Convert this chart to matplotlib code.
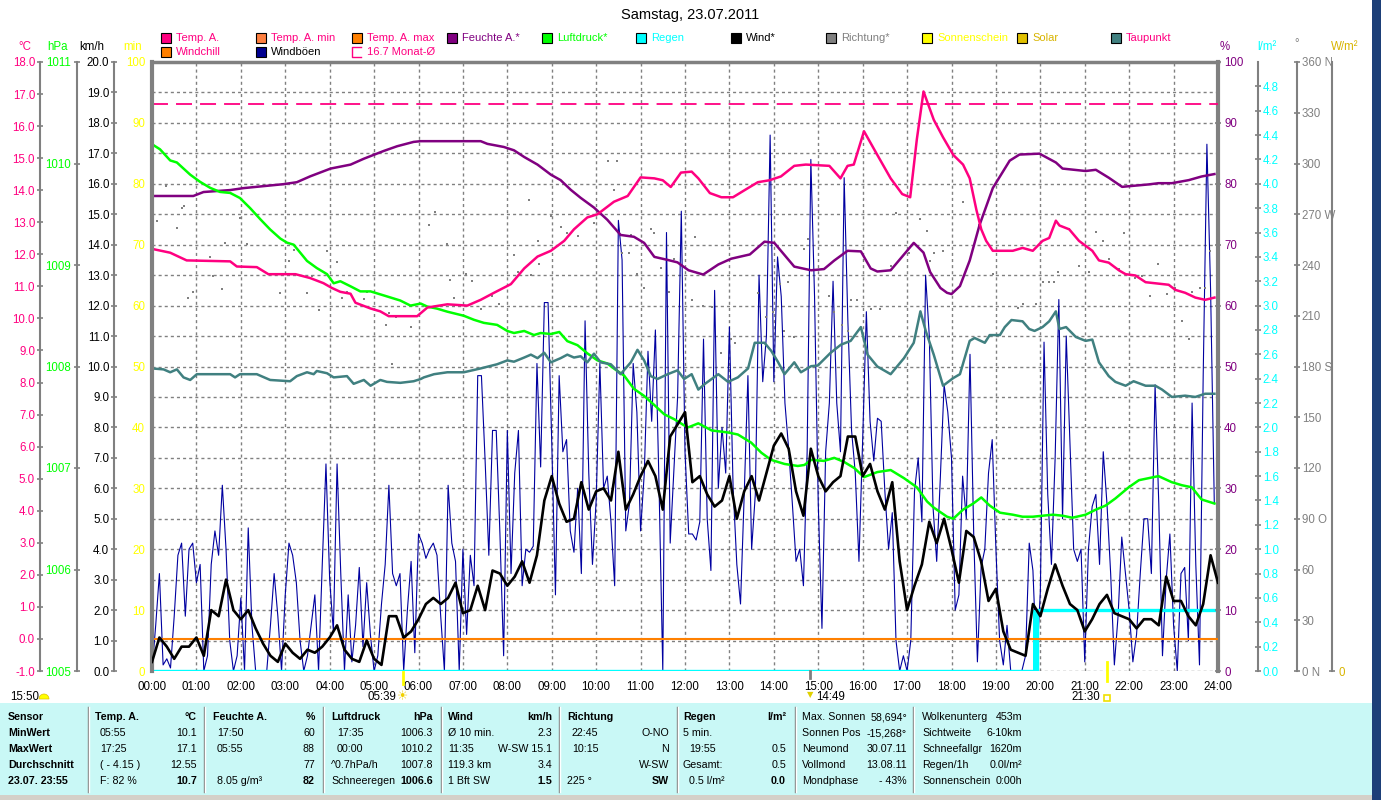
import matplotlib
matplotlib.use('Agg')
import matplotlib.pyplot as plt
import matplotlib.transforms as mtransforms
from matplotlib.patches import Rectangle, Wedge
from matplotlib.lines import Line2D
import numpy as np

plt.rcParams['font.family'] = ['Liberation Sans', 'DejaVu Sans']
plt.rcParams['lines.scale_dashes'] = False

# ---- data ----
temp_hours = [0, 0.41, 0.78, 1.76, 1.91, 2.36, 2.62, 3.23, 3.56, 3.86, 4.05, 4.24, 4.47, 4.58, 4.92, 5.14, 5.33, 5.97,
              6.2, 6.65, 7.1, 7.4, 7.7, 8.08, 8.38, 8.68, 8.98, 9.28, 9.5, 9.8, 10.03, 10.4, 10.71, 11.0, 11.31, 11.5, 11.68, 11.91,
              12.15, 12.3, 12.56, 12.82, 13.08, 13.34, 13.64, 13.9, 14.16, 14.46, 14.72, 15.25, 15.5, 15.66, 15.8, 16.03, 16.33,
              16.63, 16.89, 17.07, 17.22, 17.37, 17.6,
              17.81, 18.04, 18.26, 18.41, 18.56, 18.67, 18.78, 18.93, 19.38, 19.6, 19.83, 20.05, 20.2, 20.35, 20.43, 20.65, 20.87,
              21.17, 21.32, 21.54, 21.77, 21.92, 22.14, 22.37, 22.89, 23.04, 23.26, 23.49, 23.71, 23.92]
temp_vals = [12.17, 12.05, 11.81, 11.78, 11.62, 11.60, 11.38, 11.38, 11.26, 11.10, 10.95, 10.83, 10.77, 10.49, 10.31, 10.22, 10.07, 10.07,
             10.34, 10.44, 10.40, 10.58, 10.80, 11.07, 11.56, 11.93, 12.11, 12.42, 12.78, 13.15, 13.25, 13.64, 13.82, 14.40, 14.37, 14.31, 14.10, 14.55,
             14.58, 14.37, 13.91, 13.78, 13.78, 14.00, 14.25, 14.31, 14.43, 14.76, 14.80, 14.76, 14.37, 14.76, 14.80, 15.84, 15.10,
             14.37, 13.88, 13.78, 15.59, 17.08, 16.20,
             15.65, 15.10, 14.80, 14.37, 13.39, 12.78, 12.42, 12.11, 12.11, 12.20, 12.11, 12.42, 12.51, 13.05, 12.90, 12.78, 12.42,
             12.11, 11.81, 11.74, 11.50, 11.38, 11.34, 11.13, 11.05, 10.89, 10.80, 10.65, 10.58, 10.65]

hum_hours = [0, 0.93, 1.16, 1.76, 2.06, 2.96, 3.26, 3.56, 4.02, 4.47, 4.77, 5.22, 5.52, 5.89,
             6.05, 7.4, 7.55, 7.92, 8.15, 8.38, 8.68, 8.98, 9.2, 9.43, 9.65, 9.95, 10.25, 10.55, 10.85, 11.08, 11.31, 11.61, 11.83,
             12.08, 12.41, 12.75, 13.04, 13.46, 13.79, 14.01, 14.46, 14.84, 15.13, 15.36, 15.66, 15.96, 16.18, 16.33, 16.63, 16.85,
             17.15, 17.37, 17.52, 17.75, 17.9,
             18.0, 18.19, 18.41, 18.63, 18.93, 19.31, 19.53, 19.98, 20.35, 20.5, 21.02, 21.25, 21.54, 21.84, 22.14, 22.44, 22.66,
             22.96, 23.34, 23.63, 23.92]
hum_vals = [78.0, 78.0, 78.65, 78.97, 79.29, 79.94, 80.26, 81.22, 82.5, 83.15, 84.12, 85.4, 86.17, 86.88,
            87.0, 87.0, 86.56, 86.05, 85.5, 84.4, 83.15, 81.5, 80.6, 79.0, 77.7, 76.1, 74.1, 71.6, 71.3, 70.3, 68.0, 67.5, 67.1,
            65.8, 65.1, 66.75, 67.7, 68.4, 70.5, 70.3, 66.4, 65.8, 66.0, 67.4, 69.0, 68.9, 66.1, 65.6, 65.8, 67.7,
            70.3, 68.7, 65.5, 62.9, 62.1,
            61.9, 63.2, 67.4, 73.2, 79.3, 83.8, 84.8, 84.95, 83.5, 82.5, 82.1, 82.3, 81.0, 79.5, 79.7, 79.9, 80.1,
            80.1, 80.6, 81.2, 81.6]

press_hours = [0, 0.18, 0.41, 0.56, 0.71, 0.86, 1.08, 1.31, 1.53, 1.76, 1.98, 2.21, 2.44, 2.66, 2.89, 3.04, 3.19, 3.34, 3.49, 3.71,
               3.94, 4.09, 4.24, 4.47, 4.69, 4.92, 5.22, 5.59, 5.82, 6.05,
               6.2, 6.42, 6.65, 7.02, 7.25, 7.47, 7.77, 8.0, 8.15, 8.38, 8.6, 8.75, 8.98, 9.17, 9.35, 9.58, 9.8, 10.03, 10.25,
               10.4, 10.63, 10.85, 11.08, 11.31, 11.53, 11.76, 11.98,
               12.07, 12.3, 12.6, 12.97, 13.19, 13.49, 13.72, 13.94, 14.24, 14.54, 14.69, 14.84, 15.13, 15.36, 15.58, 15.81,
               16.03, 16.33, 16.63, 16.93, 17.22, 17.45, 17.6, 17.9,
               18.04, 18.26, 18.49, 18.67, 18.86, 19.09, 19.38, 19.6, 19.83, 20.28, 20.5, 20.72, 21.02, 21.25, 21.47, 21.69,
               21.99, 22.22, 22.44, 22.66, 22.96, 23.19, 23.41, 23.63, 23.92]
press_vals = [1010.19, 1010.14, 1010.03, 1010.01, 1009.95, 1009.89, 1009.82, 1009.76, 1009.72, 1009.71, 1009.66, 1009.56, 1009.45,
              1009.35, 1009.26, 1009.22, 1009.20, 1009.12, 1009.04, 1008.97, 1008.91, 1008.82, 1008.84, 1008.79, 1008.74, 1008.74,
              1008.70, 1008.65, 1008.60, 1008.62,
              1008.59, 1008.57, 1008.54, 1008.50, 1008.46, 1008.43, 1008.41, 1008.35, 1008.33, 1008.35, 1008.31, 1008.33, 1008.32,
              1008.34, 1008.25, 1008.21, 1008.13, 1008.06, 1008.03, 1007.98, 1007.91, 1007.78, 1007.71, 1007.62, 1007.53, 1007.48,
              1007.42,
              1007.40, 1007.44, 1007.37, 1007.35, 1007.33, 1007.25, 1007.15, 1007.08, 1007.04, 1007.02, 1007.03, 1007.08, 1007.07,
              1007.10, 1007.06, 1007.00, 1006.91, 1006.96, 1006.98, 1006.90, 1006.81, 1006.67, 1006.61, 1006.52,
              1006.50, 1006.59, 1006.65, 1006.71, 1006.63, 1006.56, 1006.54, 1006.52, 1006.52, 1006.54, 1006.53, 1006.51, 1006.54,
              1006.59, 1006.63, 1006.70, 1006.81, 1006.88, 1006.90, 1006.92, 1006.86, 1006.83, 1006.81, 1006.69, 1006.65]

dew_hours = [0, 0.26, 0.41, 0.56, 0.71, 0.86, 1.01, 1.76, 1.87, 1.98, 2.36, 2.66, 3.11, 3.26, 3.49, 3.64, 3.71, 3.94, 4.09, 4.39,
             4.54, 4.77, 4.92, 5.14, 5.29, 5.59, 5.89, 6.05,
             6.12, 6.35, 6.65, 7.02, 7.4, 7.77, 8.0, 8.15, 8.38, 8.53, 8.68, 8.83, 8.98, 9.2, 9.35, 9.5, 9.65, 9.8, 9.95, 10.1,
             10.33, 10.55, 10.78, 10.93, 11.08, 11.23, 11.38, 11.61, 11.83, 11.98,
             12.15, 12.3, 12.45, 12.75, 12.97, 13.19, 13.42, 13.57, 13.79, 13.94, 14.09, 14.24, 14.46, 14.61, 14.84, 14.99,
             15.28, 15.51, 15.73, 15.96, 16.11, 16.33, 16.63, 16.93, 17.15, 17.3, 17.42, 17.6,
             17.81, 18.04, 18.19, 18.41, 18.52, 18.75, 18.86, 19.09, 19.2, 19.35, 19.6, 19.75, 19.87, 20.05, 20.2, 20.35,
             20.43, 20.58, 20.8, 21.02, 21.17, 21.32, 21.54, 21.69, 21.92, 22.1, 22.37, 22.59, 22.74, 22.96, 23.26, 23.49,
             23.71, 23.92]
dew_vals = [8.44, 8.41, 8.32, 8.41, 8.16, 8.08, 8.26, 8.26, 8.16, 8.26, 8.26, 8.08, 8.04, 8.20, 8.32, 8.26, 8.36, 8.29, 8.16, 8.20,
            7.96, 8.08, 7.90, 8.08, 8.02, 7.99, 8.04, 8.11,
            8.16, 8.26, 8.32, 8.32, 8.44, 8.57, 8.69, 8.65, 8.78, 8.87, 8.76, 8.93, 8.63, 8.76, 8.87, 8.78, 8.82, 8.63, 8.90, 8.63,
            8.57, 8.26, 8.63, 9.02, 8.69, 8.20, 8.11, 8.26, 8.38, 8.11,
            8.26, 7.78, 7.96, 8.26, 8.02, 8.16, 8.44, 9.24, 9.24, 8.99, 8.65, 8.26, 8.63, 8.32, 8.51, 8.53,
            8.93, 9.18, 9.30, 9.73, 8.87, 8.50, 8.26, 8.76, 9.24, 10.22, 9.61, 8.87,
            7.90, 8.14, 8.26, 9.30, 9.39, 9.24, 9.48, 9.48, 9.73, 9.95, 9.91, 9.67, 9.61, 9.73, 9.91, 10.22,
            9.67, 9.73, 9.42, 9.30, 9.34, 8.63, 8.20, 8.02, 7.90, 8.04, 7.90, 7.90, 7.78, 7.55, 7.59, 7.55,
            7.65, 7.65]

# wind (10 min means), km/h, 00:00 .. 24:00
wind_10min = [0.3, 1.1, 0.8, 0.4, 0.8, 0.8, 1.1, 0.5, 2.0, 1.8, 3.0, 2.0, 1.7, 2.0, 1.4, 0.9, 0.5, 0.3, 0.9, 0.6,
              0.4, 0.7, 0.6, 0.8, 1.1, 1.5, 0.7, 0.4, 0.3, 1.0, 0.4, 0.2, 1.8, 1.8, 1.1, 1.3, 1.7,
              2.2, 2.4, 2.2, 2.4, 2.9, 1.9, 2.0, 2.8, 2.0, 3.3, 3.2, 2.8, 3.1, 3.6, 2.9, 3.8, 5.6, 6.4, 5.5, 4.9,
              5.0, 6.2, 5.3, 5.9, 6.0, 5.6, 7.2, 5.3, 5.8, 6.4, 6.9, 6.4, 5.3, 7.7, 8.1, 8.5,
              6.2, 6.4, 5.8, 5.4, 5.6, 6.4, 5.0, 5.9, 6.4, 5.6, 6.5, 7.4, 7.8, 7.3, 5.9, 5.1, 7.3, 6.4, 5.9, 6.2,
              6.4, 7.7, 7.7, 6.4, 6.8, 5.9, 5.3, 6.2, 3.6, 2.0, 2.8, 3.5, 4.9, 4.2, 5.0,
              4.0, 2.9, 4.6, 4.4, 3.6, 2.3, 2.7, 1.3, 0.7, 0.6, 0.5, 2.2, 1.8, 2.7, 3.5, 2.8, 2.2, 2.0, 1.3, 1.7,
              2.2, 2.5, 1.9, 1.8, 1.7, 1.4, 1.7, 1.7, 1.5, 3.1, 2.3, 2.3, 1.8, 1.5, 2.2, 3.8, 2.9]

# gusts (5 min), km/h, 00:00 .. 23:55
gust_5min = [0, 1.5, 3.2, 0.2, 0.4, 0.1, 1.8, 3.8, 4.2, 1.8, 4.0, 4.2, 2.9, 3.5, 0, 0.5, 3.5, 4.6, 3.8, 6.1,
             4.0, 1.0, 0, 0.5, 2.4, 0, 4.7, 1.5, 0, 0, 0, 0, 1.5, 3.2, 1.8, 0, 2.5, 4.2, 3.8, 2.9,
             1.0, 0, 0.5, 1.5, 2.5, 0, 3.5, 6.8, 3.0, 1.3, 6.8, 3.2, 0, 2.5, 0.3, 1.5, 3.4, 0.8, 2.9, 1.2,
             0, 0.5, 2.2, 3.5, 6.1, 3.2, 2.8, 3.2, 0, 2.0, 3.6, 0.6, 4.5,
             4.2, 3.7, 4.0, 4.2, 3.8, 1.8, 0, 6.1, 4.2, 3.6, 0, 4.0, 1.2, 3.8, 2.8, 9.7, 9.7, 6.9, 3.8, 7.9,
             7.9, 4.5, 0.5, 7.9, 3.2, 6.5, 7.9, 2.8, 4.0, 3.9, 4.1, 10.1, 6.7, 12.1, 12.1, 7.5, 2.5, 9.7, 7.2, 7.6,
             4.6, 3.9, 6.0, 3.2, 11.5, 6.5, 3.5, 5.6, 10.1, 6.0, 6.4, 4.9, 2.8, 14.8, 13.5, 4.6, 5.5, 10.1, 8.5, 4.6,
             6.5, 10.5, 8.2, 11.2, 6.0, 0, 14.4, 4.2, 6.6, 9.0, 15.1, 7.2,
             4.5, 4.5, 4.3, 4.9, 10.9, 5.0, 3.3, 12.5, 6.0, 8.0, 6.5, 11.3, 6.0, 3.5, 2.2, 5.8, 9.7, 4.0, 5.8, 13.0,
             9.5, 11.0, 17.6, 9.5, 13.6, 12.3, 8.8, 7.3, 5.5, 3.6, 4.0, 2.8, 7.2, 16.8, 12.3, 5.5, 1.4, 7.2, 8.8, 12.8,
             8.8, 7.2, 16.2, 11.5, 7.9, 6.5, 3.6, 7.6, 11.8, 8.2, 6.9, 8.3, 8.2, 5.9, 4.0, 5.2, 1.0, 0, 0.5, 0,
             1.0, 5.9, 7.0, 4.9, 13.0, 11.0, 5.4, 3.6, 6.4, 9.4, 8.5,
             7.0, 2.0, 2.5, 6.4, 5.0, 10.4, 4.5, 0.3, 3.4, 4.0, 6.5, 7.6, 4.0, 1.0, 0.2, 1.5, 0, 0, 0, 0,
             0.5, 4.2, 3.3, 0.2, 2.6, 10.8, 5.8, 3.5, 7.0, 12.2, 5.0, 11.0, 7.5, 4.0, 3.6, 4.0, 0.3, 4.0, 5.4, 5.8,
             3.5, 7.2, 5.5, 3.2, 0.2, 1.8, 4.4, 3.2, 2.0, 0.3, 1.2, 3.2, 5.0, 5.0, 3.2, 9.4, 5.5, 0.5, 3.0, 4.5,
             1.5, 0, 3.2, 3.4, 1.0, 8.8, 3.5, 0.2, 9.7, 17.3, 12.5, 5.5]

dir_hours = [0.11, 0.32, 0.56, 0.67, 0.71, 0.82, 0.92, 1.31, 1.38, 1.57, 1.65, 1.98, 2.15, 2.89, 3.08, 3.19, 3.49, 3.60, 3.75,
             3.94, 4.17, 4.28, 4.39, 4.77, 4.84, 5.26, 5.33, 5.41, 5.50, 5.82,
             6.23, 6.38, 6.65, 6.72, 6.80, 7.06, 7.21, 7.40, 7.66, 7.81, 8.15, 8.23, 8.49, 8.53, 8.68, 8.71, 8.98, 9.20,
             9.35, 9.58, 9.95, 10.26, 10.41, 10.48, 10.59, 10.74, 10.78, 10.93, 11.08, 11.23, 11.31, 11.46, 11.65, 11.76,
             12.15, 12.22, 12.41, 12.60, 12.82, 13.04, 13.12, 13.64, 13.83, 13.98, 14.13, 14.24, 14.31, 14.46, 14.67,
             14.76, 15.25, 15.36, 15.54, 15.66, 15.73, 15.88, 16.18, 16.40, 16.63, 16.74, 17.04, 17.30, 17.45, 17.52, 17.60,
             17.81, 18.26, 18.63, 18.93, 19.49, 19.60, 19.90, 20.05, 20.20, 20.31, 20.39, 20.65, 20.87, 21.10, 21.25,
             21.40, 21.54, 21.77, 21.88, 22.14, 22.29, 22.48, 22.66, 22.85, 23.04, 23.19, 23.34, 23.41, 23.60, 23.71, 23.82]
dir_deg = [265.8, 286.6, 261.6, 273.9, 275.0, 220.6, 224.0, 244.5, 233.4, 225.7, 253.0, 268.0, 252.4, 223.4, 242.6, 248.9, 223.6,
           233.4, 213.5, 248.4, 241.5, 220.6, 224.1, 219.9, 224.0, 204.4, 211.4, 181.3, 209.0, 203.3,
           263.5, 271.6, 252.4, 231.0, 220.6, 234.5, 230.4, 213.7, 221.8, 217.2, 246.0, 235.7, 278.5, 233.8, 254.2, 240.3,
           269.2, 262.3, 258.8, 257.0, 264.6, 301.6, 284.3, 301.6, 247.3, 247.3, 257.7, 234.5, 226.4, 261.5, 258.8, 238.0,
           224.1, 243.8,
           219.6, 256.5, 216.0, 214.9, 188.2, 196.4, 194.0, 223.4, 209.1, 212.5, 228.7, 200.9, 229.9, 197.5, 249.6,
           255.4, 221.8, 212.5, 204.4, 201.0, 219.5, 219.5, 213.7, 213.7, 239.2, 270.9, 246.8, 266.9, 259.9, 242.2, 247.3,
           248.4, 277.3, 263.5, 234.5, 214.4, 217.2, 217.2, 229.9, 229.9, 229.9, 235.7, 261.2, 239.2, 235.7, 259.3,
           253.9, 243.8, 237.9, 258.8, 232.2, 233.4, 221.8, 240.3, 222.9, 226.4, 206.7, 196.4, 224.1, 226.4, 226.4, 248.4]

rain_5min_hours = [19.87]
rain_5min = [0.5]
rain_sum_hours = [0.0, 19.92, 23.92]
rain_sum = [0.0, 0.5, 0.5]

month_avg_temp = 16.7
orange_line_temp = 0.0
sunrise, transit, sunset = 5.65, 14.82, 21.5

hour_labels = ['%02d:00' % h for h in range(25)]
dir_labels = ['0 N', '30', '60', '90 O', '120', '150', '180 S', '210', '240', '270 W', '300', '330', '360 N']

# ---- colours ----
PINK = '#ff0080'
PURPLE = '#800080'
GREEN = '#00ff00'
CYAN = '#00ffff'
GRAY = '#808080'
YELLOW = '#ffff00'
GOLD = '#d8b400'
TEAL = '#408080'
ORANGE = '#ff8000'
NAVY = '#0000a0'
FS = 8.3    # axis tick text
FS_SMALL = 7.7  # legend and table

W, H = 1381, 800
fig = plt.figure(figsize=(W / 100, H / 100), dpi=100)
px = mtransforms.Affine2D().scale(1 / W, -1 / H).translate(0, 1) + fig.transFigure

L, R, T, B = 152, 1218, 62, 671
ax = fig.add_axes([L / W, 1 - B / H, (R - L) / W, (B - T) / H])
ax.set_xlim(0, 24)
ax.set_ylim(0, 20)


def style_spine(a, side, pos, color, ticks, labels, length=5, pad=1.0, lw=1.5):
    sp = a.spines[side]
    sp.set_visible(True)
    sp.set_position(('axes', pos))
    sp.set_color(GRAY)
    sp.set_linewidth(lw)
    if side == 'left':
        a.yaxis.tick_left()
    else:
        a.yaxis.tick_right()
    a.set_yticks(ticks)
    a.set_yticklabels(labels)
    a.tick_params(axis='y', which='both', colors=GRAY, labelcolor=color, direction='inout',
                  length=length, width=1.2, labelsize=FS, pad=pad)


def twin(lim):
    a = ax.twinx()
    a.set_ylim(*lim)
    for s in a.spines.values():
        s.set_visible(False)
    a.set_yticks([])
    return a


# main axes: km/h, grid and gusts
for s in ax.spines.values():
    s.set_visible(False)
ax.spines['top'].set_visible(True)
ax.spines['top'].set_color(GRAY)
ax.spines['top'].set_linewidth(2.5)
style_spine(ax, 'left', -0.0356, 'black', np.arange(0, 21, 1.0), ['%.1f' % v for v in range(21)])
ax.set_xticks(range(25))
ax.set_xticklabels(hour_labels)
ax.tick_params(axis='x', length=0, labelsize=FS, pad=7)
ax.grid(True, color=GRAY, lw=1, dashes=(2.2, 2.2))
ax.plot(np.arange(len(gust_5min)) / 12, gust_5min, color=NAVY, lw=0.8)

ax_dir = twin((0, 360))
style_spine(ax_dir, 'right', 1.0741, GRAY, np.arange(0, 361, 30), dir_labels)
ax_dir.plot(dir_hours, dir_deg, 's', ms=2, mew=0, color=GRAY)

ax_rain = twin((0, 5))
style_spine(ax_rain, 'right', 1.0375, CYAN, np.arange(0, 4.81, 0.2), ['%.1f' % v for v in np.arange(0, 4.81, 0.2)])
ax_rain.bar(rain_5min_hours, rain_5min, width=0.09, color=CYAN)
ax_rain.step(rain_sum_hours, rain_sum, where='post', color=CYAN, lw=2.4)

ax_hum = twin((0, 100))
style_spine(ax_hum, 'right', 1.0, PURPLE, range(0, 101, 10), [str(v) for v in range(0, 101, 10)], lw=3, pad=2)
ax_hum.plot(hum_hours, hum_vals, color=PURPLE, lw=1.8)

ax_hpa = twin((1005, 1011))
style_spine(ax_hpa, 'left', -0.0704, GREEN, range(1005, 1012), [str(v) for v in range(1005, 1012)], pad=2)
ax_hpa.plot(press_hours, press_vals, color=GREEN, lw=1.8)

ax_c = twin((-1, 18))
style_spine(ax_c, 'left', -0.1051, PINK, range(-1, 19), ['%.1f' % v for v in range(-1, 19)])
ax_c.axhline(orange_line_temp, color=ORANGE, lw=1.5)
ax_c.axhline(month_avg_temp, color=PINK, lw=1.3, dashes=(11.5, 5.8))
ax_c.plot(dew_hours, dew_vals, color=TEAL, lw=1.8)
ax_c.plot(temp_hours, temp_vals, color=PINK, lw=1.8)

ax_min = twin((0, 100))
style_spine(ax_min, 'left', 0.0, YELLOW, range(0, 101, 10), [str(v) for v in range(0, 101, 10)], length=0, pad=5, lw=3)

ax_wm2 = twin((0, 1000))
style_spine(ax_wm2, 'right', 1.1069, GOLD, [0], ['0'], pad=2)

ax_wind = twin((0, 20))
ax_wind.plot(np.arange(len(wind_10min)) / 6, wind_10min, color='black', lw=1.9)

# ---- title, units, legend ----
fig.text(690 / W, 1 - 15 / H, 'Samstag, 23.07.2011', ha='center', va='center', fontsize=10.5)
for txt, x, y, c in [('°C', 25, 47, PINK), ('hPa', 58, 47, GREEN), ('km/h', 92, 47, 'black'), ('min', 133, 47, YELLOW),
                     ('%', 1225, 47, PURPLE), ('l/m²', 1267, 47, CYAN), ('°', 1297, 44, GRAY), ('W/m²', 1345, 47, GOLD)]:
    fig.text(x, y, txt, transform=px, ha='center', va='center', fontsize=FS, color=c)

legend = [('Temp. A.', PINK, PINK, 161, 38), ('Temp. A. min', '#ff8040', PINK, 256, 38),
          ('Temp. A. max', ORANGE, PINK, 352, 38), ('Feuchte A.*', PURPLE, PURPLE, 447, 38),
          ('Luftdruck*', GREEN, GREEN, 542, 38), ('Regen', CYAN, CYAN, 636, 38), ('Wind*', 'black', 'black', 731, 38),
          ('Richtung*', GRAY, GRAY, 826, 38), ('Sonnenschein', YELLOW, YELLOW, 922, 38), ('Solar', '#e0c000', GOLD, 1017, 38),
          ('Taupunkt', TEAL, PINK, 1111, 38), ('Windchill', ORANGE, PINK, 161, 52), ('Windböen', '#000090', 'black', 256, 52)]
for txt, box, tc, x, y in legend:
    fig.patches.append(Rectangle((x, y - 5), 10, 10, transform=px, facecolor=box, edgecolor='black', lw=0.8))
    fig.text(x + 15, y, txt, transform=px, ha='left', va='center', fontsize=FS_SMALL + 0.3, color=tc)
fig.lines.append(Line2D([361, 352, 352, 361], [47, 47, 57, 57], transform=px, color=PINK, lw=1))
fig.text(367, 52, '16.7 Monat-Ø', transform=px, ha='left', va='center', fontsize=FS_SMALL + 0.3, color=PINK)

# ---- sun / moon markers under the time axis ----
tb = mtransforms.blended_transform_factory(ax.transData, px)
left_of = mtransforms.offset_copy(tb, fig=fig, x=-7, y=0, units='dots')
right_of = mtransforms.offset_copy(tb, fig=fig, x=6, y=0, units='dots')
fig.lines.append(Line2D([sunrise, sunrise], [672, 684], transform=tb, color=YELLOW, lw=2))
fig.lines.append(Line2D([sunset, sunset], [662, 681], transform=tb, color=YELLOW, lw=2))
fig.lines.append(Line2D([transit, transit], [671, 678], transform=tb, color=GRAY, lw=2))
fig.text(sunrise, 697, '☀', transform=tb, ha='center', va='center', fontsize=9, color='#f0d000',
         family=['DejaVu Sans'])
fig.text(sunrise, 697, '05:39', transform=left_of, ha='right', va='center', fontsize=FS)
fig.lines.append(Line2D([sunset], [698], transform=tb, marker='s', ms=4.5, mfc='none', mec='#f0e000', mew=1.2))
fig.text(sunset, 697, '21:30', transform=left_of, ha='right', va='center', fontsize=FS)
fig.text(transit, 695, '▼', transform=tb, ha='center', va='center', fontsize=6, color='#e0d000',
         family=['DejaVu Sans'])
fig.text(transit, 697, '14:49', transform=right_of, ha='left', va='center', fontsize=FS)
fig.text(10, 697, '15:50', transform=px, ha='left', va='center', fontsize=FS)
fig.patches.append(Wedge((44, 699), 5, 180, 360, transform=px, facecolor=YELLOW, edgecolor='#e0c000', lw=0.5))

# ---- bottom table ----
fig.patches.append(Rectangle((0, 703), 1372, 92, transform=px, facecolor='#c9f8f6', edgecolor='none'))
fig.patches.append(Rectangle((0, 795), 1372, 5, transform=px, facecolor='#d4d0c8', edgecolor='none'))
fig.patches.append(Rectangle((1372, 0), 9, 800, transform=px, facecolor='#1d3f78', edgecolor='none'))
for x in [88, 204, 323, 441, 559, 677, 795, 913]:
    fig.lines.append(Line2D([x, x], [707, 792], transform=px, color=GRAY, lw=1))
    fig.lines.append(Line2D([x + 1, x + 1], [707, 792], transform=px, color='white', lw=1))

rows = [717, 733, 749, 765, 781]
table = [
    (8, 'l', ['Sensor', 'MinWert', 'MaxWert', 'Durchschnitt', '23.07. 23:55'], [1, 1, 1, 1, 1]),
    (95, 'l', ['Temp. A.', '', '', '', ''], [1, 0, 0, 0, 0]),
    (100, 'l', ['', '05:55', '17:25', '( - 4.15 )', 'F: 82 %'], [0] * 5),
    (197, 'r', ['°C', '10.1', '17.1', '12.55', '10.7'], [1, 0, 0, 0, 1]),
    (213, 'l', ['Feuchte A.', '', '', '', ''], [1, 0, 0, 0, 0]),
    (217, 'l', ['', '17:50', '05:55', '', '8.05 g/m³'], [0] * 5),
    (315, 'r', ['%', '60', '88', '77', '82'], [1, 0, 0, 0, 1]),
    (331, 'l', ['Luftdruck', '', '', '^0.7hPa/h', 'Schneeregen'], [1, 0, 0, 0, 0]),
    (337, 'l', ['', '17:35', '00:00', '', ''], [0] * 5),
    (433, 'r', ['hPa', '1006.3', '1010.2', '1007.8', '1006.6'], [1, 0, 0, 0, 1]),
    (448, 'l', ['Wind', 'Ø 10 min.', '11:35', '119.3 km', '1 Bft SW'], [1, 0, 0, 0, 0]),
    (552, 'r', ['km/h', '2.3', 'W-SW 15.1', '3.4', '1.5'], [1, 0, 0, 0, 1]),
    (567, 'l', ['Richtung', '', '', '', '225 °'], [1, 0, 0, 0, 0]),
    (572, 'l', ['', '22:45', '10:15', '', ''], [0] * 5),
    (669, 'r', ['', 'O-NO', 'N', 'W-SW', 'SW'], [0, 0, 0, 0, 1]),
    (683, 'l', ['Regen', '5 min.', '', 'Gesamt:', ''], [1, 0, 0, 0, 0]),
    (689, 'l', ['', '', '19:55', '', '0.5 l/m²'], [0] * 5),
    (786, 'r', ['l/m²', '', '0.5', '0.5', '0.0'], [1, 0, 0, 0, 1]),
    (802, 'l', ['Max. Sonnen', 'Sonnen Pos', 'Neumond', 'Vollmond', 'Mondphase'], [0] * 5),
    (907, 'r', ['58,694°', '-15,268°', '30.07.11', '13.08.11', '- 43%'], [0] * 5),
    (922, 'l', ['Wolkenunterg', 'Sichtweite', 'Schneefallgr', 'Regen/1h', 'Sonnenschein'], [0] * 5),
    (1022, 'r', ['453m', '6-10km', '1620m', '0.0l/m²', '0:00h'], [0] * 5),
]
for x, al, texts, bold in table:
    for y, t, b in zip(rows, texts, bold):
        if t:
            fig.text(x, y, t, transform=px, ha='left' if al == 'l' else 'right', va='center', fontsize=FS_SMALL,
                     fontweight='bold' if b else 'normal')

fig.savefig('out.png', dpi=100)
